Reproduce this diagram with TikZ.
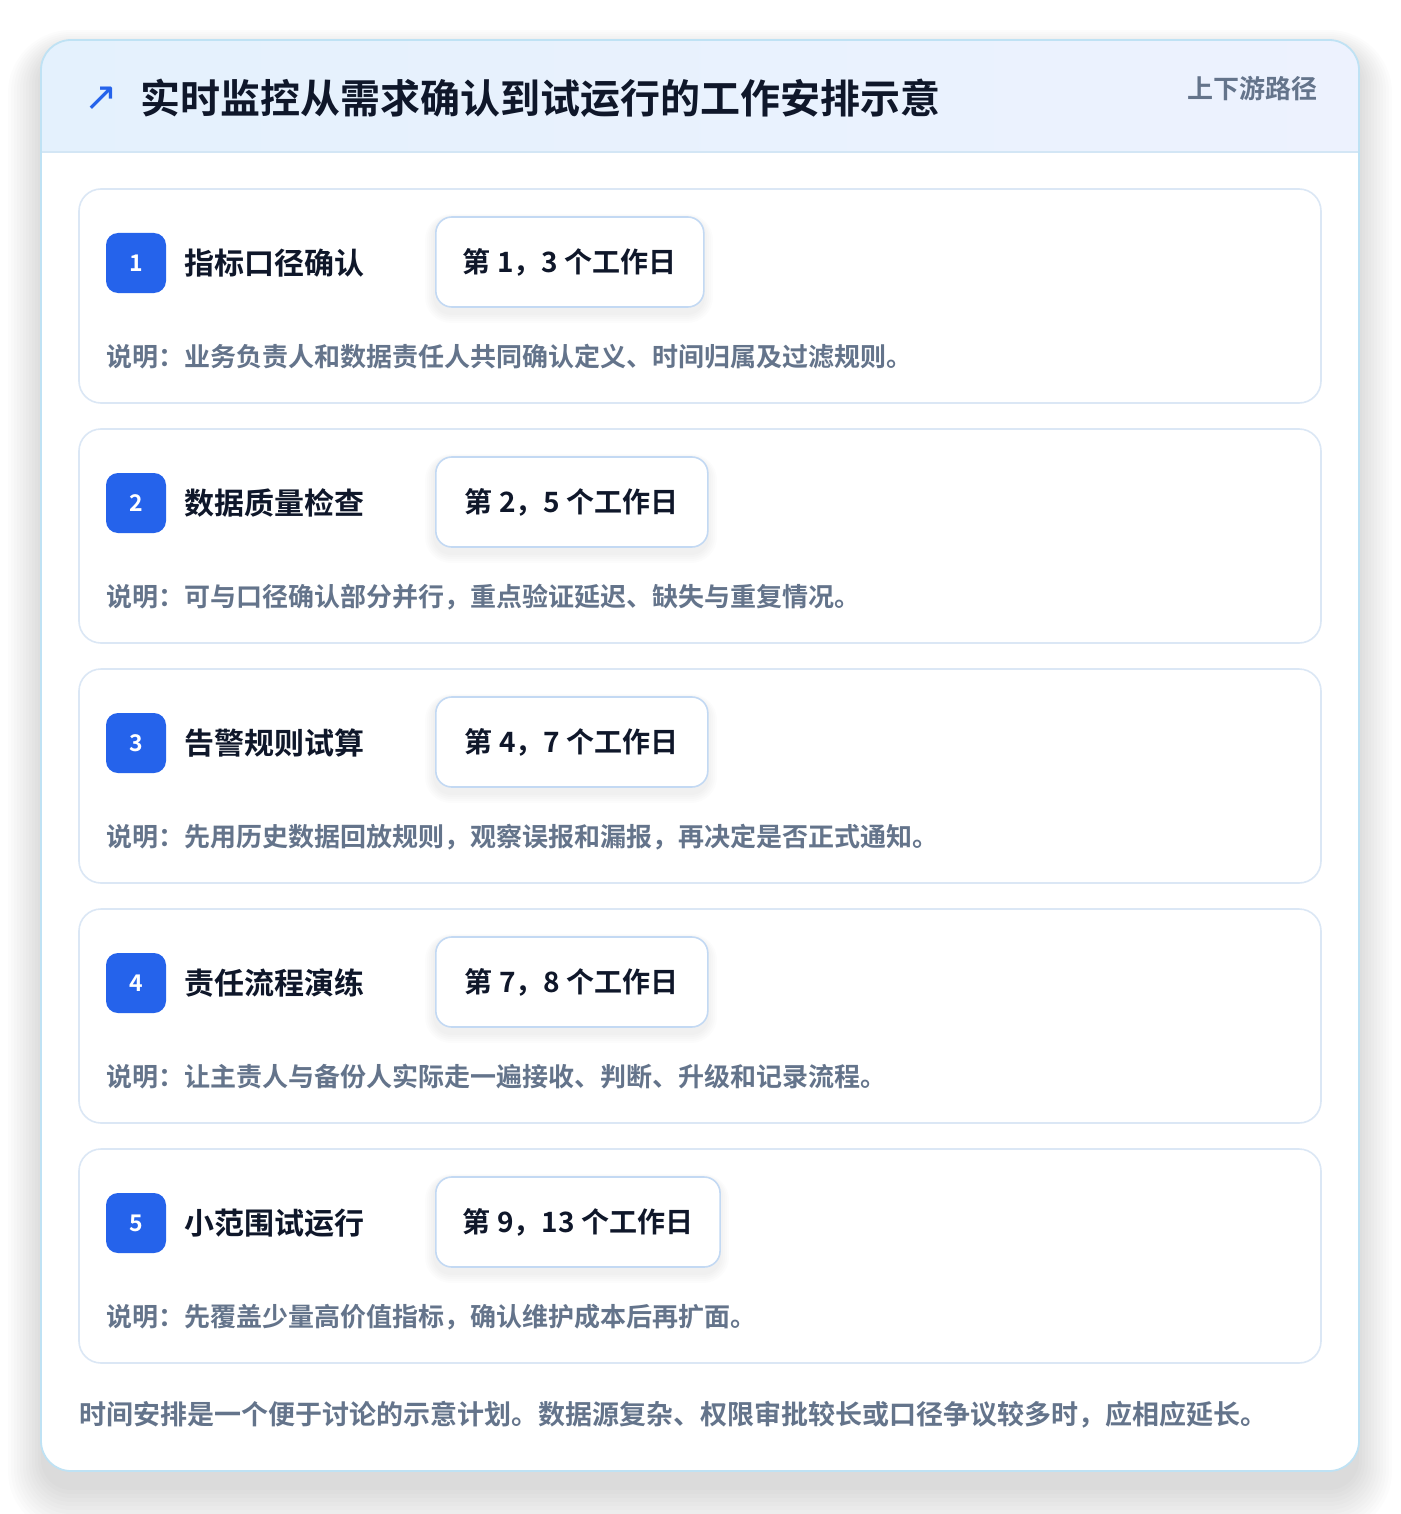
\documentclass[tikz,border=0pt]{standalone}
\usepackage{fontspec}
\setmainfont{Noto Sans CJK SC}[BoldFont={Noto Sans CJK SC Bold}]
\newfontfamily\symf{DejaVu Sans}
\definecolor{ink}{HTML}{0F172A}
\definecolor{muted}{HTML}{64748B}
\definecolor{brand}{HTML}{2563EB}
\definecolor{cardline}{HTML}{DBE7F5}
\definecolor{outerline}{HTML}{BFE2F4}
\definecolor{hdrL}{HTML}{E4F1FD}
\definecolor{hdrR}{HTML}{EDF2FE}
\definecolor{hdrline}{HTML}{D3E6F5}
\definecolor{dateline}{HTML}{C3D9F3}
\tikzset{
  txt/.style={inner sep=0pt, anchor=west},
  itemcard/.style={draw=cardline, line width=1.6pt, fill=white, rounded corners=22pt},
  badge/.style={fill=brand, rounded corners=12pt, minimum width=60pt, minimum height=60pt, inner sep=0pt, text=white, font=\fontsize{23}{26}\selectfont\bfseries},
  datebox/.style={draw=dateline, line width=1.6pt, fill=white, rounded corners=16pt, minimum height=90pt, inner xsep=27pt, anchor=west, text=ink, font=\fontsize{28}{34}\selectfont\bfseries},
  itemtitle/.style={txt, text=ink, font=\fontsize{30}{36}\selectfont\bfseries},
  desc/.style={txt, text=muted, font=\fontsize{26}{32}\selectfont\bfseries},
}
\begin{document}
\begin{tikzpicture}[x=1pt,y=-1pt]
\useasboundingbox (0,0) rectangle (1400,1514);
\fill[white] (0,0) rectangle (1400,1514);
% outer card shadow (soft, layered)
\foreach \k in {0,...,11}{
  \fill[black, opacity=0.012, rounded corners={30pt+3pt*\k}] (41-3*\k,52-2*\k) rectangle (1359+3*\k,1490+4*\k);
}
\fill[white, rounded corners=30pt] (41,40) rectangle (1359,1471);
\begin{scope}
  \clip[rounded corners=30pt] (41,40) rectangle (1359,1471);
  \shade[left color=hdrL, right color=hdrR] (41,40) rectangle (1359,152);
\end{scope}
\draw[hdrline, line width=1.5pt] (41,152) -- (1359,152);
\draw[outerline, line width=1.8pt, rounded corners=30pt] (41,40) rectangle (1359,1471);
% header
\node[txt, text=brand, font=\symf\fontsize{40}{46}\selectfont] (icon) at (84,99) {↗};
\node[txt, text=ink, font=\fontsize{40}{48}\selectfont\bfseries] (title) at (140,98) {实时监控从需求确认到试运行的工作安排示意};
\node[inner sep=0pt, anchor=east, text=muted, font=\fontsize{26}{32}\selectfont\bfseries] (tag) at (1318,89) {上下游路径};
% items
\foreach \i/\ttl/\dt/\ds/\w in {%
  1/指标口径确认/第 1，3 个工作日/说明：业务负责人和数据责任人共同确认定义、时间归属及过滤规则。/268,
  2/数据质量检查/第 2，5 个工作日/说明：可与口径确认部分并行，重点验证延迟、缺失与重复情况。/272,
  3/告警规则试算/第 4，7 个工作日/说明：先用历史数据回放规则，观察误报和漏报，再决定是否正式通知。/272,
  4/责任流程演练/第 7，8 个工作日/说明：让主责人与备份人实际走一遍接收、判断、升级和记录流程。/272,
  5/小范围试运行/第 9，13 个工作日/说明：先覆盖少量高价值指标，确认维护成本后再扩面。/284}{
  \pgfmathsetmacro\yy{189+240*(\i-1)}
  \draw[itemcard] (79,\yy) rectangle (1321,\yy+214);
  \coordinate (card\i) at (79,\yy);
  \node[badge] (badge\i) at (136,\yy+74) {\i};
  \node[itemtitle] (ttl\i) at (184,\yy+74) {\ttl};
  % soft shadow under the date box
  \foreach \k in {1,...,5}{
    \fill[black, opacity=0.012, rounded corners={16pt+2pt*\k}] (435-2*\k,\yy+30-1*\k) rectangle (435+\w+2*\k,\yy+124+2*\k);
  }
  \node[datebox, minimum width=\w pt] (date\i) at (435,\yy+73) {\dt};
  \node[desc] (desc\i) at (106,\yy+168) {\ds};
}
\node[txt, text=muted, font=\fontsize{27}{32}\selectfont\bfseries] (note) at (79,1415) {时间安排是一个便于讨论的示意计划。数据源复杂、权限审批较长或口径争议较多时，应相应延长。};
\end{tikzpicture}
\end{document}
